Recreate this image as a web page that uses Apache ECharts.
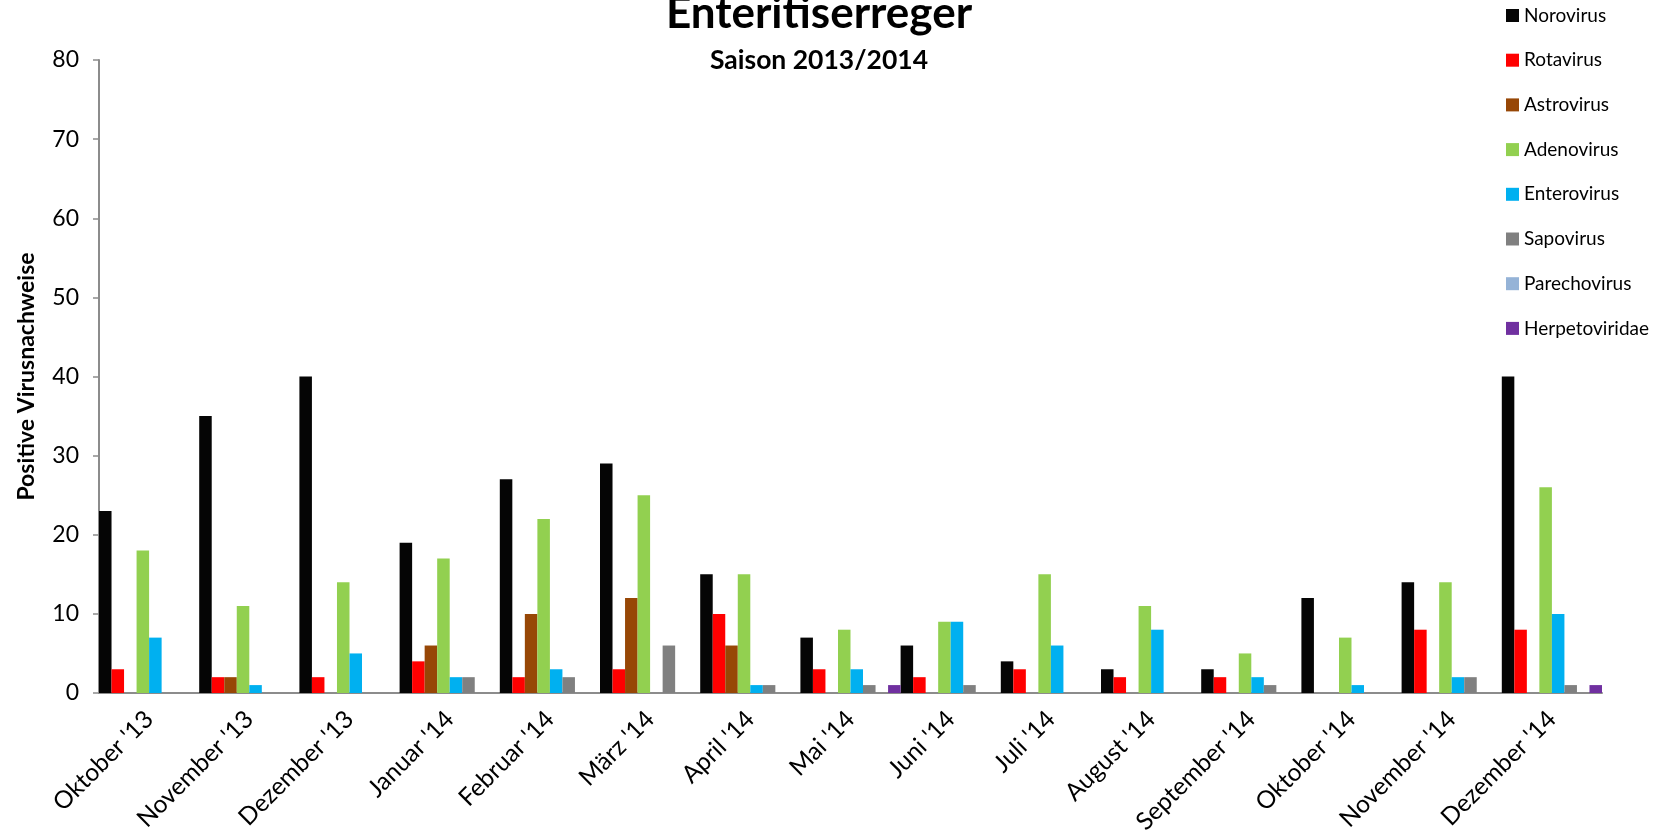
<!DOCTYPE html>
<html>
<head>
<meta charset="utf-8">
<script src="https://cdn.jsdelivr.net/npm/echarts@6/dist/echarts.min.js"></script>
<style>
html,body{margin:0;padding:0;background:#fff;}
#c{width:1659px;height:839px;}
</style>
</head>
<body>
<div id="c"></div>
<script>
var categories = ["Oktober '13","November '13","Dezember '13","Januar '14","Februar '14","März '14","April '14","Mai '14","Juni '14","Juli '14","August '14","September '14","Oktober '14","November '14","Dezember '14"];
var norovirus    = [23,35,40,19,27,29,15,7,6,4,3,3,12,14,40];
var rotavirus    = [3,2,2,4,2,3,10,3,2,3,2,2,0,8,8];
var astrovirus   = [0,2,0,6,10,12,6,0,0,0,0,0,0,0,0];
var adenovirus   = [18,11,14,17,22,25,15,8,9,15,11,5,7,14,26];
var enterovirus  = [7,1,5,2,3,0,1,3,9,6,8,2,1,2,10];
var sapovirus    = [0,0,0,2,2,6,1,1,1,0,0,1,0,2,1];
var parechovirus = [0,0,0,0,0,0,0,0,0,0,0,0,0,0,0];
var herpetoviridae = [0,0,0,0,0,0,0,1,0,0,0,0,0,0,1];
var yTicks = [0,10,20,30,40,50,60,70,80];

var seriesDefs = [
  ["Norovirus", norovirus, "#050505"],
  ["Rotavirus", rotavirus, "#FF0000"],
  ["Astrovirus", astrovirus, "#974706"],
  ["Adenovirus", adenovirus, "#92D050"],
  ["Enterovirus", enterovirus, "#00B0F0"],
  ["Sapovirus", sapovirus, "#808080"],
  ["Parechovirus", parechovirus, "#95B3D7"],
  ["Herpetoviridae", herpetoviridae, "#7030A0"]
];
var font = "Lato, 'Open Sans', sans-serif";
var chart = echarts.init(document.getElementById('c'));
chart.setOption({
  animation: false,
  backgroundColor: '#fff',
  title: [
    {text: 'Enteritiserreger', left: 814, top: -13, textAlign: 'center',
     textStyle: {fontFamily: font, fontSize: 44, fontWeight: 'bold', color: '#000'}},
    {text: 'Saison 2013/2014', left: 814, top: 42, textAlign: 'center',
     textStyle: {fontFamily: font, fontSize: 26.5, fontWeight: 'bold', color: '#000'}}
  ],
  legend: {
    orient: 'vertical', left: 1506, top: 6, itemGap: 25.7,
    itemWidth: 13, itemHeight: 13, icon: 'rect', padding: 0,
    textStyle: {fontFamily: font, fontSize: 19, color: '#000'},
    data: seriesDefs.map(function(s){return s[0];})
  },
  grid: {left: 99, top: 60, width: 1503, height: 633, containLabel: false},
  xAxis: {
    type: 'category', data: categories, boundaryGap: true,
    axisLine: {lineStyle: {color: '#8c8c8c', width: 2}},
    axisTick: {show: false},
    axisLabel: {rotate: 45, interval: 0, margin: 22, fontFamily: font, fontSize: 24.5, color: '#000'}
  },
  yAxis: {
    type: 'value', min: yTicks[0], max: yTicks[yTicks.length-1], interval: 10,
    name: 'Positive Virusnachweise', nameLocation: 'middle', nameGap: 61,
    nameTextStyle: {fontFamily: font, fontSize: 23, fontWeight: 'bold', color: '#000'},
    axisLine: {show: true, lineStyle: {color: '#8c8c8c', width: 2}},
    axisTick: {show: true, length: 6, lineStyle: {color: '#8c8c8c', width: 1.5}},
    axisLabel: {fontFamily: font, fontSize: 23, color: '#000', margin: 20},
    splitLine: {show: false}
  },
  series: seriesDefs.map(function(s){
    return {name: s[0], type: 'bar', data: s[1], barGap: '0%', barCategoryGap: '0%',
      itemStyle: {color: s[2]}};
  })
});
</script>
</body>
</html>
